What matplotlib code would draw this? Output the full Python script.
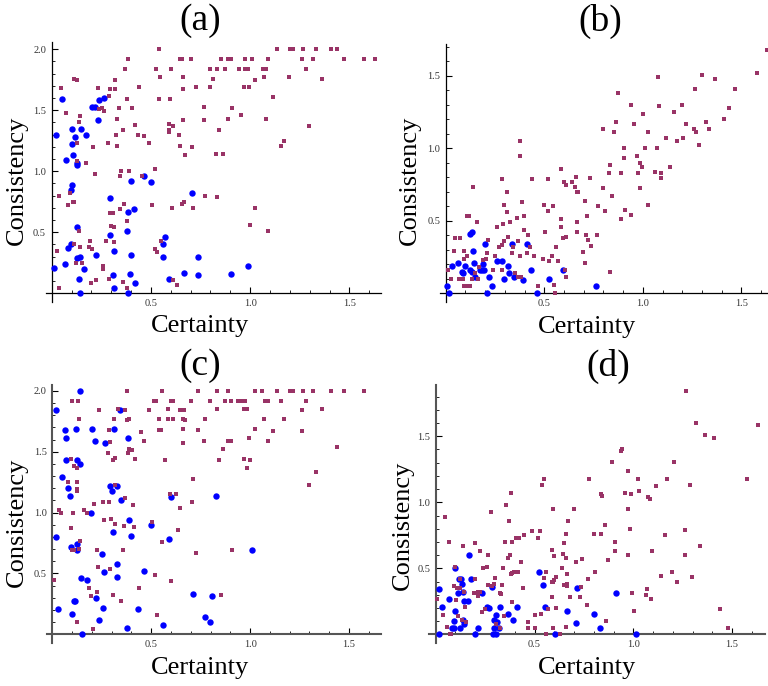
import numpy as np
import matplotlib
matplotlib.use("Agg")
import matplotlib.pyplot as plt
from matplotlib.ticker import MultipleLocator, FixedLocator, FormatStrFormatter

plt.rcParams['font.family'] = ['Liberation Serif', 'DejaVu Serif']

# ---------------- panel (a) ----------------
a_blue_x = [0.054, 0.022, 0.012, 0.072, 0.10, 0.10, 0.118, 0.109, 0.126, 0.126, 0.10, 0.097,
            0.15, 0.171, 0.205, 0.218, 0.232, 0.237, 0.264, 0.126, 0.096, 0.084, 0.069, 0.129,
            0.143, 0.136, 0.165, 0.143, 0.225, 0.294, 0.294, 0.316, 0.307, 0.314, 0.383, 0.415,
            0.40, 0.467, 0.50, 0.38, 0.40, 0.393, 0.386, 0.418, 0.56, 0.57, 0.563, 0.593,
            0.665, 0.709, 0.739, 0.737, 0.905, 0.987]
a_blue_y = [1.59, 1.30, 0.21, 1.09, 1.35, 1.22, 1.28, 1.13, 1.05, 1.07, 0.89, 0.85,
            1.35, 1.30, 1.53, 1.53, 1.42, 1.58, 1.60, 0.54, 0.40, 0.37, 0.24, 0.29,
            0.30, 0.12, 0.20, 0.00, 0.31, 0.78, 0.48, 0.35, 0.15, 0.04, 0.67, 0.69,
            0.92, 0.96, 0.91, 0.51, 0.31, 0.16, 0.00, 0.08, 0.40, 0.46, 0.30, 0.12,
            0.17, 0.82, 0.30, 0.15, 0.16, 0.22]

a_sq_x = [0.542, 0.386, 0.37, 0.526, 0.60, 0.647, 0.658, 0.047, 0.113, 0.126, 0.235, 0.294,
          0.32, 0.32, 0.44, 0.546, 0.663, 0.663, 0.07, 0.145, 0.14, 0.24, 0.252, 0.265,
          0.29, 0.34, 0.33, 0.378, 0.406, 0.542, 0.598, 0.59, 0.59, 0.59, 0.61, 0.663,
          0.13, 0.21, 0.285, 0.33, 0.324, 0.36, 0.42, 0.437, 0.467, 0.49, 0.641, 0.647,
          0.672, 0.126, 0.175, 0.218, 0.35, 0.344, 0.39, 0.453, 0.522, 0.092, 0.084, 0.106,
          0.113, 0.039, 0.366, 0.344, 0.294, 0.307, 0.38, 0.504, 0.605, 0.658, 0.667, 0.025,
          0.035, 0.114, 0.136, 0.143, 0.123, 0.155, 0.193, 0.19, 0.203, 0.222, 0.198, 0.26,
          0.26, 0.272, 0.29, 0.297, 0.316, 0.314, 0.36, 0.38, 0.52, 0.53, 0.552, 0.61, 0.63,
          1.137, 1.20, 1.218, 1.268, 1.331, 1.409, 1.439, 0.70, 0.855, 0.89, 0.905, 0.972,
          1.01, 1.091, 1.263, 1.318, 1.474, 1.575, 0.799, 0.834, 0.875, 0.942, 0.975, 0.987,
          1.063, 1.078, 1.283, 0.811, 1.026, 1.071, 1.197, 1.363, 0.729, 0.799, 0.97, 0.996,
          1.117, 0.769, 0.91, 0.769, 0.89, 0.955, 1.081, 0.844, 1.298, 0.708, 1.157, 1.172,
          0.83, 0.865, 0.774, 0.834, 0.714, 1.026, 1.001, 1.091, 1.63]
a_sq_y = [2.00, 1.92, 1.84, 1.84, 1.84, 1.92, 1.92, 1.68, 1.76, 1.75, 1.68, 1.67,
          1.67, 1.75, 1.69, 1.77, 1.77, 1.67, 1.48, 1.45, 1.40, 1.51, 1.52, 1.49,
          1.62, 1.52, 1.43, 1.59, 1.52, 1.59, 1.59, 1.39, 1.34, 1.32, 1.37, 1.42,
          1.23, 1.20, 1.23, 1.21, 1.30, 1.34, 1.38, 1.30, 1.29, 1.23, 1.30, 1.21,
          1.13, 1.08, 1.07, 0.98, 1.00, 0.96, 1.00, 0.96, 1.02, 0.82, 0.72, 0.75,
          0.75, 0.80, 0.73, 0.69, 0.66, 0.66, 0.59, 0.72, 0.70, 0.73, 0.75, 0.35,
          0.04, 0.40, 0.51, 0.38, 0.25, 0.25, 0.43, 0.38, 0.36, 0.11, 0.08, 0.22,
          0.20, 0.43, 0.12, 0.55, 0.54, 0.42, 0.09, 0.04, 0.36, 0.34, 0.43, 0.11, 0.07,
          2.00, 2.00, 2.00, 2.00, 2.00, 2.00, 2.00, 1.92, 1.92, 1.92, 1.92, 1.92,
          1.92, 1.92, 1.92, 1.92, 1.92, 1.92, 1.84, 1.84, 1.84, 1.84, 1.84, 1.84,
          1.84, 1.84, 1.84, 1.76, 1.75, 1.77, 1.77, 1.76, 1.69, 1.69, 1.69, 1.69,
          1.61, 1.53, 1.52, 1.42, 1.43, 1.46, 1.43, 1.34, 1.37, 1.20, 1.21, 1.245,
          1.14, 1.14, 0.80, 0.79, 0.70, 0.70, 0.557, 0.51, 1.92]

# ---------------- panel (b) ----------------
b_blue_x = [0.005, 0.017, 0.034, 0.064, 0.081, 0.09, 0.098, 0.123, 0.132, 0.123, 0.135, 0.144,
            0.14, 0.149, 0.174, 0.186, 0.196, 0.191, 0.20, 0.208, 0.221, 0.233, 0.258, 0.287,
            0.297, 0.318, 0.323, 0.334, 0.348, 0.39, 0.414, 0.432, 0.465, 0.525, 0.593, 0.764]
b_blue_y = [0.05, 0.00, 0.19, 0.21, 0.145, 0.14, 0.19, 0.41, 0.42, 0.16, 0.15, 0.21,
            0.29, 0.11, 0.16, 0.16, 0.16, 0.20, 0.34, 0.00, 0.11, 0.05, 0.22, 0.22,
            0.10, 0.19, 0.14, 0.34, 0.11, 0.09, 0.34, 0.16, 0.00, 0.10, 0.16, 0.05]

b_sq_x = [0.378, 0.378, 0.284, 0.309, 0.389, 0.439, 0.517, 0.584, 0.60, 0.608, 0.639, 0.66,
          0.655, 0.664, 0.672, 0.664, 0.666, 0.718, 0.11, 0.118, 0.14, 0.16, 0.047, 0.073,
          0.04, 0.095, 0.095, 0.106, 0.014, 0.027, 0.068, 0.088, 0.093, 0.111, 0.123, 0.135,
          0.149, 0.166, 0.169, 0.191, 0.203, 0.211, 0.216, 0.242, 0.25, 0.258, 0.27, 0.284,
          0.287, 0.292, 0.296, 0.297, 0.318, 0.313, 0.326, 0.334, 0.343, 0.351, 0.361, 0.368,
          0.368, 0.382, 0.378, 0.397, 0.399, 0.41, 0.419, 0.427, 0.449, 0.466, 0.492, 0.498,
          0.502, 0.52, 0.525, 0.537, 0.542, 0.551, 0.554, 0.562, 0.571, 0.583, 0.596, 0.583,
          0.605, 0.608, 0.61,
          1.632, 1.579, 1.469, 1.366, 1.301, 1.265, 1.078, 0.875, 0.941, 1.083, 1.199, 1.159,
          1.002, 1.437, 1.412, 1.321, 1.336, 1.27, 1.26, 1.22, 1.204, 1.174, 1.118, 1.285,
          0.865, 0.956, 0.799, 0.855, 1.027, 0.905, 1.012, 1.073, 0.905, 0.971, 0.986, 0.997,
          1.138, 0.834, 0.829, 0.89, 0.976, 1.062, 1.093, 1.093, 0.733, 0.799, 0.986, 0.845,
          0.708, 0.774, 0.809, 0.91, 0.941, 1.027, 0.89, 0.713, 0.769, 0.723, 0.738, 0.698,
          0.708, 0.834]
b_sq_y = [1.05, 0.95, 0.79, 0.70, 0.63, 0.79, 0.79, 0.855, 0.77, 0.75, 0.77, 0.80,
          0.735, 0.70, 0.70, 0.49, 0.42, 0.53, 0.53, 0.53, 0.73, 0.49, 0.38, 0.38,
          0.29, 0.29, 0.24, 0.26, 0.16, 0.10, 0.10, 0.10, 0.05, 0.05, 0.05, 0.10,
          0.14, 0.10, 0.18, 0.23, 0.24, 0.28, 0.37, 0.16, 0.26, 0.455, 0.32, 0.33,
          0.16, 0.475, 0.36, 0.61, 0.39, 0.56, 0.49, 0.275, 0.32, 0.14, 0.52, 0.36,
          0.11, 0.11, 0.26, 0.44, 0.53, 0.28, 0.40, 0.32, 0.26, 0.05, 0.24, 0.61,
          0.42, 0.57, 0.22, 0.26, 0.605, 0.06, 0.00, 0.32, 0.22, 0.51, 0.38, 0.46,
          0.16, 0.39, 0.115,
          1.68, 1.52, 1.407, 1.476, 1.503, 1.407, 1.49, 1.38, 1.30, 1.29, 1.30, 1.248,
          1.234, 1.276, 1.20, 1.18, 1.13, 1.11, 1.13, 1.165, 1.07, 1.048, 1.07, 1.02,
          1.18, 1.165, 1.13, 1.11, 1.11, 1.00, 1.00, 1.00, 0.93, 0.95, 0.896, 0.87,
          0.87, 0.883, 0.827, 0.827, 0.827, 0.834, 0.827, 0.793, 0.793, 0.724, 0.724, 0.669,
          0.634, 0.60, 0.565, 0.572, 0.538, 0.607, 0.51, 0.40, 0.40, 0.365, 0.324, 0.283,
          0.207, 0.145]

# ---------------- panel (c) ----------------
c_blue_x = [0.019, 0.14, 0.019, 0.03, 0.05, 0.066, 0.069, 0.069, 0.079, 0.089, 0.094, 0.099,
            0.11, 0.115, 0.121, 0.123, 0.14, 0.123, 0.126, 0.145, 0.15, 0.174, 0.194, 0.20,
            0.216, 0.219, 0.234, 0.249, 0.258, 0.261, 0.266, 0.29, 0.302, 0.308, 0.313, 0.325,
            0.327, 0.329, 0.344, 0.345, 0.381, 0.388, 0.40, 0.379, 0.435, 0.465, 0.499, 0.56,
            0.588, 0.60, 0.71, 0.827, 1.011, 0.807, 0.77, 0.799]
c_blue_y = [1.84, 2.00, 0.80, 0.21, 1.29, 1.68, 1.61, 1.43, 1.20, 1.14, 0.72, 0.17,
            0.27, 0.27, 1.69, 1.43, 1.40, 0.74, 0.69, 0.46, 0.00, 0.45, 1.00, 1.69,
            1.59, 0.30, 0.12, 0.66, 0.22, 0.51, 1.575, 1.22, 1.18, 0.84, 1.69, 1.22,
            0.58, 0.47, 1.84, 1.10, 1.61, 0.94, 0.81, 0.055, 0.21, 0.52, 0.90, 0.08,
            0.78, 1.13, 0.33, 1.136, 0.69, 0.316, 0.141, 0.105]

c_sq_x = [0.379, 0.556, 0.514, 0.524, 0.598, 0.608, 0.099, 0.131, 0.238, 0.334, 0.367, 0.489,
          0.586, 0.645, 0.66, 0.667, 0.586, 0.608, 0.541, 0.376, 0.386, 0.313, 0.133, 0.659,
          0.672, 0.541, 0.548, 0.659, 0.45, 0.288, 0.66, 0.463, 0.292, 0.389, 0.401, 0.384,
          0.283, 0.094, 0.317, 0.308, 0.418, 0.571, 0.11, 0.126, 0.123, 0.081, 0.123, 0.123,
          0.317, 0.367, 0.595, 0.625, 0.212, 0.258, 0.285, 0.406, 0.647, 0.035, 0.045, 0.106,
          0.162, 0.174, 0.263, 0.295, 0.317, 0.362, 0.415, 0.502, 0.096, 0.637, 0.14, 0.553,
          0.099, 0.11, 0.136, 0.228, 0.359, 0.233, 0.292, 0.521, 0.008, 0.187, 0.224, 0.194,
          0.305, 0.349, 0.44, 0.602, 0.123, 0.207, 0.527,
          0.738, 0.834, 0.89, 1.026, 1.062, 1.138, 1.202, 1.218, 1.269, 1.32, 1.41, 1.476,
          1.577, 0.699, 0.799, 0.875, 0.905, 0.94, 0.955, 0.976, 1.077, 1.092, 1.158, 1.284,
          0.834, 0.971, 0.986, 1.264, 1.365, 0.774, 1.072, 1.173, 0.738, 1.026, 1.117, 1.264,
          0.768, 0.89, 0.905, 0.996, 1.092, 0.864, 1.441, 0.844, 0.971, 1.001, 0.986, 1.335,
          0.713, 1.299, 0.708, 0.728, 0.91, 0.854]
c_sq_y = [2.00, 2.00, 1.92, 1.92, 1.92, 1.92, 1.92, 1.92, 1.84, 1.85, 1.84, 1.84,
          1.85, 1.84, 1.84, 1.84, 1.77, 1.77, 1.77, 1.76, 1.77, 1.77, 1.77, 1.77,
          1.76, 1.68, 1.68, 1.69, 1.665, 1.68, 1.57, 1.59, 1.58, 1.52, 1.515, 1.49,
          1.49, 1.44, 1.45, 1.43, 1.44, 1.43, 1.38, 1.37, 1.25, 1.25, 1.195, 1.18,
          1.23, 1.12, 1.15, 1.15, 1.07, 1.085, 1.085, 1.06, 1.035, 1.02, 0.995, 0.995,
          1.02, 1.00, 0.94, 0.95, 0.905, 0.89, 0.88, 0.92, 0.877, 0.855, 0.77, 0.76,
          0.69, 0.69, 0.70, 0.69, 0.69, 0.556, 0.54, 0.49, 0.45, 0.38, 0.345, 0.315,
          0.32, 0.27, 0.38, 0.435, 0.10, 0.04, 0.16,
          2.00, 2.00, 2.00, 2.00, 2.00, 2.00, 2.00, 2.00, 2.00, 2.00, 2.00, 2.00,
          2.00, 1.92, 1.92, 1.92, 1.92, 1.92, 1.92, 1.92, 1.92, 1.92, 1.92, 1.92,
          1.85, 1.85, 1.85, 1.84, 1.85, 1.766, 1.766, 1.766, 1.675, 1.69, 1.67, 1.67,
          1.59, 1.59, 1.585, 1.61, 1.585, 1.52, 1.536, 1.43, 1.437, 1.43, 1.37, 1.33,
          1.28, 1.223, 1.084, 0.665, 0.69, 0.32]

# ---------------- panel (d) ----------------
d_blue_x = [0.019, 0.019, 0.03, 0.066, 0.081, 0.094, 0.091, 0.096, 0.10, 0.111, 0.116, 0.125,
            0.128, 0.133, 0.14, 0.142, 0.145, 0.14, 0.162, 0.17, 0.177, 0.20, 0.216, 0.236,
            0.261, 0.27, 0.287, 0.288, 0.294, 0.297, 0.305, 0.307, 0.312, 0.322, 0.327, 0.366,
            0.393, 0.413, 0.523, 0.541, 0.553, 0.604, 0.664, 0.71, 0.713, 0.80, 0.911, 0.83,
            1.013]
d_blue_y = [0.34, 0.00, 0.21, 0.27, 0.05, 0.05, 0.10, 0.50, 0.18, 0.31, 0.42, 0.045,
            0.42, 0.38, 0.32, 0.25, 0.08, 0.106, 0.25, 0.60, 0.42, 0.00, 0.05, 0.31,
            0.21, 0.20, 0.36, 0.00, 0.05, 0.106, 0.146, 0.00, 0.096, 0.05, 0.21, 0.157,
            0.106, 0.21, 0.475, 0.374, 0.207, 0.00, 0.177, 0.086, 0.354, 0.157, 0.31, 0.048,
            0.00]

d_sq_x = [0.047, 0.067, 0.137, 0.199, 0.226, 0.263, 0.261, 0.282, 0.356, 0.381, 0.373, 0.353,
          0.368, 0.378, 0.388, 0.381, 0.388, 0.398, 0.407, 0.42, 0.418, 0.432, 0.449, 0.489,
          0.52, 0.53, 0.54, 0.55, 0.59, 0.596, 0.59, 0.60, 0.594, 0.60, 0.61, 0.641,
          0.646, 0.65, 0.658, 0.661, 0.668, 0.666, 0.666, 0.666, 0.68, 0.70, 0.71, 0.007,
          0.039, 0.056, 0.073, 0.078, 0.098, 0.094, 0.103, 0.108, 0.115, 0.123, 0.125, 0.135,
          0.148, 0.155, 0.143, 0.192, 0.199, 0.216, 0.216, 0.223, 0.236, 0.238, 0.25, 0.267,
          0.283, 0.295, 0.30, 0.304, 0.334, 0.327, 0.332, 0.341, 0.348, 0.326, 0.385, 0.444,
          0.466, 0.469, 0.50, 0.503, 0.531, 0.547, 0.56, 0.557, 0.567, 0.587, 0.596, 0.61,
          0.628, 0.658, 0.651,
          1.268, 1.319, 1.364, 1.41, 1.632, 0.944, 0.939, 0.894, 1.207, 0.777, 0.975, 1.025,
          1.172, 1.577, 1.116, 1.288, 0.838, 0.843, 0.959, 0.99, 1.03, 1.076, 1.086, 0.975,
          0.858, 0.803, 0.838, 0.985, 1.162, 1.263, 0.909, 0.909, 1.096, 1.339, 0.742, 0.873,
          0.975, 1.263, 0.808, 0.772, 1.197, 1.142, 1.298, 1.223, 0.737, 0.73, 0.995, 1.071,
          1.066, 1.091, 0.767, 1.005, 0.863, 1.44, 1.48]
d_sq_y = [0.89, 0.70, 0.667, 0.69, 0.63, 0.60, 0.51, 0.924, 0.98, 1.07, 0.856, 0.70,
          0.576, 0.60, 0.70, 0.455, 0.465, 0.47, 0.727, 0.727, 0.47, 0.545, 0.75, 0.785,
          0.727, 0.785, 1.13, 1.18, 0.283, 0.947, 0.636, 0.596, 0.394, 0.414, 0.437, 0.505,
          0.606, 0.694, 0.576, 0.757, 0.856, 0.455, 0.379, 0.364, 0.28, 0.947, 0.548, 0.268,
          0.146, 0.053, 0.00, 0.00, 0.513, 0.364, 0.258, 0.348, 0.136, 0.348, 0.42, 0.106,
          0.21, 0.09, 0.323, 0.313, 0.42, 0.29, 0.318, 0.318, 0.167, 0.505, 0.19, 0.374,
          0.364, 0.384, 0.424, 0.08, 0.374, 0.313, 0.303, 0.50, 0.141, 0.045, 0.242, 0.354,
          0.09, 0.05, 0.146, 0.05, 0.157, 0.424, 0.47, 0.00, 0.19, 0.394, 0.045, 0.20,
          0.00, 0.056, 0.374,
          1.844, 1.60, 1.508, 1.485, 1.583, 1.40, 1.386, 1.303, 1.303, 1.18, 1.235, 1.18,
          1.18, 1.18, 1.12, 1.129, 1.06, 1.046, 1.068, 1.06, 1.083, 1.038, 1.023, 0.947,
          0.826, 0.758, 0.758, 0.796, 0.75, 0.788, 0.697, 0.629, 0.629, 0.667, 0.568, 0.561,
          0.599, 0.599, 0.47, 0.417, 0.47, 0.44, 0.432, 0.394, 0.356, 0.28, 0.31, 0.341,
          0.295, 0.265, 0.22, 0.174, 0.099, 0.19, 0.046]

# axes boxes in pixels (left, top, right, bottom) and data limits
W, H = 768, 686
panels = [
    ("(a)", (45.7, 41.9, 381.2, 301.8), (-0.03, 1.66), (-0.07, 2.06), [0.5, 1.0, 1.5, 2.0],
     a_blue_x, a_blue_y, a_sq_x, a_sq_y, 'black', 0.9),
    ("(b)", (439.8, 43.9, 768.0, 302.0), (-0.03, 1.635), (-0.06, 1.72), [0.5, 1.0, 1.5],
     b_blue_x, b_blue_y, b_sq_x, b_sq_y, 'black', 0.9),
    ("(c)", (46.8, 384.8, 380.6, 642.8), (-0.028, 1.66), (-0.07, 2.05), [0.5, 1.0, 1.5, 2.0],
     c_blue_x, c_blue_y, c_sq_x, c_sq_y, '#555555', 1.5),
    ("(d)", (429.4, 384.8, 765.1, 643.3), (-0.032, 1.667), (-0.068, 1.89), [0.5, 1.0, 1.5],
     d_blue_x, d_blue_y, d_sq_x, d_sq_y, '#555555', 1.5),
]

# title, xlabel, ylabel centres in pixels
title_pos = [(200, 21), (600, 21), (200, 366), (608, 366)]
xlab_pos = [(200, 326), (587, 327), (200, 668), (587, 668)]
ylab_pos = [(17, 180), (410, 180), (17, 522), (403, 525)]

fig = plt.figure(figsize=(W / 100, H / 100), dpi=100)

for i, (name, box, xl, yl, yt, bx, by, sx, sy, axcol, axlw) in enumerate(panels):
    l, t, r, b = box
    ax = fig.add_axes([l / W, 1 - b / H, (r - l) / W, (b - t) / H])
    ax.plot(bx, by, 'o', color='#0000ff', markersize=4.6, markeredgewidth=0, zorder=3)
    ax.plot(sx, sy, 's', color='#993366', markersize=2.3, markeredgewidth=0, zorder=4)
    ax.set_xlim(*xl)
    ax.set_ylim(*yl)
    ax.spines['top'].set_visible(False)
    ax.spines['right'].set_visible(False)
    ax.spines['left'].set_position(('data', 0))
    ax.spines['bottom'].set_position(('data', 0))
    for sp in ['left', 'bottom']:
        ax.spines[sp].set_color(axcol)
        ax.spines[sp].set_linewidth(axlw)
    ax.xaxis.set_major_locator(FixedLocator([0.5, 1.0, 1.5]))
    ax.yaxis.set_major_locator(FixedLocator(yt))
    ax.xaxis.set_minor_locator(MultipleLocator(0.1))
    ax.yaxis.set_minor_locator(MultipleLocator(0.1))
    ax.xaxis.set_major_formatter(FormatStrFormatter('%.1f'))
    ax.yaxis.set_major_formatter(FormatStrFormatter('%.1f'))
    ax.tick_params(which='major', direction='in', length=4, width=0.8, color='black',
                   labelsize=7.5, labelcolor='#333333', pad=4)
    ax.tick_params(which='minor', direction='in', length=2, width=0.6, color='black')
    ax.patch.set_alpha(0)

    fig.text(title_pos[i][0] / W, 1 - title_pos[i][1] / H, name, ha='center', va='center',
             fontsize=27)
    fig.text(xlab_pos[i][0] / W, 1 - xlab_pos[i][1] / H, "Certainty", ha='center',
             va='center', fontsize=19)
    fig.text(ylab_pos[i][0] / W, 1 - ylab_pos[i][1] / H, "Consistency", ha='center',
             va='center', fontsize=19, rotation=90)

fig.savefig("out.png", dpi=100)
